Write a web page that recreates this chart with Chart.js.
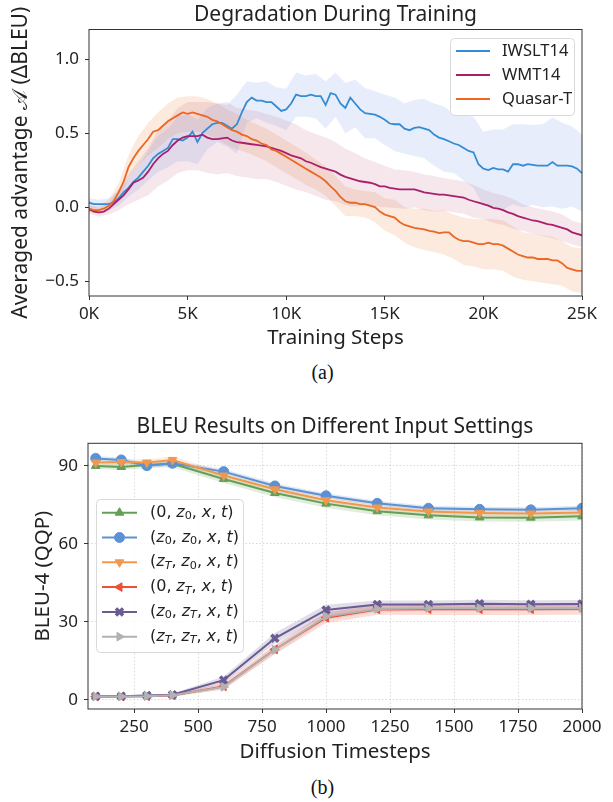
<!DOCTYPE html>
<html>
<head>
<meta charset="utf-8">
<script src="https://cdn.jsdelivr.net/npm/chart.js@4.4.1/dist/chart.umd.min.js"></script>
<style>
    body { margin: 0; background: #fff; width: 613px; height: 802px; position: relative; overflow: hidden; }
    .wrap { position: absolute; left: 0; width: 613px; }
    .cap { position: absolute; left: 16px; width: 613px; text-align: center; font-family: "Liberation Serif", serif; font-size: 20px; color: #111; }
</style>
</head>
<body>
<div class="wrap" style="top:0;height:352px"><canvas id="chartA" width="613" height="352"></canvas></div>
<div class="cap" style="top:361px">(a)</div>
<div class="wrap" style="top:400px;height:364px"><canvas id="chartB" width="613" height="364"></canvas></div>
<div class="cap" style="top:776px">(b)</div>
<script>
// ---- (a) Degradation During Training, one value every 250 steps ----
var stepA = 250;
var iwslt = [0.03, 0.02, 0.02, 0.02, 0.02, 0.03, 0.06, 0.10, 0.13, 0.17,
    0.20, 0.24, 0.28, 0.33, 0.36, 0.38, 0.40, 0.46, 0.46, 0.45,
    0.47, 0.51, 0.44, 0.50, 0.53, 0.56, 0.57, 0.57, 0.55, 0.53,
    0.56, 0.64, 0.71, 0.74, 0.72, 0.72, 0.71, 0.71, 0.68, 0.65,
    0.66, 0.70, 0.76, 0.75, 0.75, 0.76, 0.75, 0.75, 0.69, 0.77,
    0.76, 0.70, 0.67, 0.74, 0.70, 0.66, 0.635, 0.63, 0.625, 0.61,
    0.59, 0.565, 0.56, 0.56, 0.53, 0.52, 0.535, 0.54, 0.53, 0.52,
    0.49, 0.47, 0.46, 0.445, 0.43, 0.42, 0.40, 0.38, 0.37, 0.29,
    0.26, 0.25, 0.265, 0.255, 0.255, 0.24, 0.29, 0.29, 0.28, 0.29,
    0.285, 0.28, 0.28, 0.28, 0.305, 0.28, 0.28, 0.28, 0.275, 0.26,
    0.23];
var wmt = [-0.015, -0.03, -0.035, -0.03, -0.01, 0.02, 0.05, 0.08, 0.12, 0.165,
    0.18, 0.20, 0.24, 0.29, 0.33, 0.36, 0.38, 0.42, 0.45, 0.47,
    0.48, 0.48, 0.48, 0.49, 0.47, 0.46, 0.46, 0.465, 0.47, 0.45,
    0.44, 0.435, 0.43, 0.425, 0.42, 0.415, 0.41, 0.40, 0.39, 0.38,
    0.365, 0.35, 0.34, 0.33, 0.31, 0.30, 0.285, 0.27, 0.26, 0.25,
    0.24, 0.22, 0.205, 0.195, 0.185, 0.175, 0.17, 0.165, 0.155, 0.14,
    0.14, 0.13, 0.125, 0.12, 0.12, 0.12, 0.12, 0.11, 0.10, 0.095,
    0.09, 0.085, 0.085, 0.08, 0.075, 0.07, 0.065, 0.05, 0.04, 0.03,
    0.02, 0.01, -0.005, -0.01, -0.02, -0.035, -0.045, -0.06, -0.07, -0.08,
    -0.09, -0.095, -0.105, -0.115, -0.12, -0.13, -0.14, -0.15, -0.17, -0.18,
    -0.19];
var quasar = [-0.01, -0.02, -0.02, -0.01, 0.01, 0.04, 0.10, 0.17, 0.27, 0.33,
    0.38, 0.42, 0.46, 0.51, 0.52, 0.55, 0.58, 0.60, 0.62, 0.64,
    0.63, 0.64, 0.63, 0.62, 0.61, 0.59, 0.58, 0.56, 0.54, 0.52,
    0.51, 0.49, 0.48, 0.46, 0.45, 0.43, 0.42, 0.39, 0.38, 0.36,
    0.34, 0.32, 0.30, 0.28, 0.26, 0.24, 0.22, 0.20, 0.175, 0.14,
    0.11, 0.07, 0.04, 0.03, 0.03, 0.02, 0.02, 0.01, 0.0, -0.03,
    -0.05, -0.06, -0.07, -0.10, -0.12, -0.13, -0.14, -0.145, -0.15, -0.16,
    -0.165, -0.175, -0.17, -0.17, -0.20, -0.22, -0.23, -0.23, -0.24, -0.25,
    -0.25, -0.24, -0.25, -0.25, -0.26, -0.28, -0.30, -0.32, -0.33, -0.34,
    -0.34, -0.35, -0.35, -0.35, -0.36, -0.36, -0.38, -0.41, -0.42, -0.43,
    -0.43];
// band half widths, one value every 500 steps
var stepBand = 500;
var iwsltSpread = [0.03, 0.03, 0.04, 0.05, 0.06, 0.08, 0.10, 0.12, 0.13, 0.15,
    0.16, 0.15, 0.14, 0.13, 0.14, 0.20, 0.14, 0.12, 0.14, 0.13,
    0.14, 0.15, 0.14, 0.15, 0.16, 0.15, 0.17, 0.16, 0.17, 0.16,
    0.17, 0.18, 0.17, 0.19, 0.20, 0.21, 0.22, 0.20, 0.22, 0.24,
    0.25, 0.26, 0.27, 0.27, 0.28, 0.27, 0.28, 0.30, 0.29, 0.27,
    0.26];
var wmtSpread = [0.03, 0.03, 0.04, 0.07, 0.10, 0.13, 0.16, 0.19, 0.20, 0.22,
    0.23, 0.23, 0.24, 0.24, 0.24, 0.23, 0.23, 0.23, 0.22, 0.22,
    0.22, 0.22, 0.21, 0.21, 0.21, 0.20, 0.19, 0.18, 0.16, 0.15,
    0.14, 0.13, 0.13, 0.12, 0.12, 0.12, 0.11, 0.11, 0.11, 0.11,
    0.10, 0.10, 0.10, 0.10, 0.09, 0.09, 0.09, 0.09, 0.09, 0.08,
    0.08];
var quasarSpread = [0.02, 0.03, 0.04, 0.06, 0.08, 0.10, 0.11, 0.12, 0.12, 0.12,
    0.12, 0.12, 0.12, 0.12, 0.12, 0.12, 0.11, 0.11, 0.11, 0.11,
    0.11, 0.11, 0.11, 0.10, 0.10, 0.10, 0.10, 0.09, 0.09, 0.10,
    0.11, 0.12, 0.12, 0.13, 0.14, 0.14, 0.15, 0.15, 0.16, 0.16,
    0.17, 0.17, 0.17, 0.17, 0.16, 0.16, 0.16, 0.16, 0.15, 0.15,
    0.15];
var xTicksA = [0, 5000, 10000, 15000, 20000, 25000];
var yTicksA = [-0.5, 0, 0.5, 1.0];

// ---- (b) BLEU Results on Different Input Settings ----
var timesteps = [100, 200, 300, 400, 600, 800, 1000, 1200, 1400, 1600, 1800, 2000];
var bleuZeroZ0 = [90.0, 89.6, 90.4, 90.8, 85.0, 79.6, 75.5, 72.6, 71.0, 70.2, 70.1, 70.6];
var bleuZ0Z0 = [92.9, 92.3, 90.1, 91.0, 87.8, 82.3, 78.5, 75.6, 73.7, 73.3, 73.1, 73.7];
var bleuZTZ0 = [91.3, 91.5, 91.3, 92.3, 86.3, 81.0, 76.8, 74.0, 72.5, 71.9, 71.7, 72.1];
var bleuZeroZT = [1.3, 1.3, 1.4, 1.7, 5.2, 19.4, 31.6, 34.8, 34.9, 34.9, 34.9, 35.0];
var bleuZ0ZT = [1.4, 1.4, 1.7, 2.0, 7.6, 23.7, 34.6, 36.7, 36.7, 37.0, 36.8, 36.9];
var bleuZTZT = [1.3, 1.3, 1.4, 1.8, 5.0, 19.3, 32.1, 35.0, 35.3, 35.3, 35.3, 35.3];
var sdZeroZ0 = [1.2, 1.2, 1.2, 1.3, 1.6, 1.6, 1.6, 1.6, 1.6, 1.6, 1.6, 1.6];
var sdZ0Z0 = [0.9, 0.9, 0.9, 0.9, 1.0, 1.0, 1.0, 1.0, 1.0, 1.0, 1.0, 1.0];
var sdZTZ0 = [1.2, 1.2, 1.2, 1.3, 1.5, 1.5, 1.5, 1.5, 1.5, 1.5, 1.5, 1.5];
var sdZeroZT = [0.4, 0.4, 0.4, 0.5, 1.2, 1.8, 2.0, 2.0, 2.2, 2.2, 2.2, 2.2];
var sdZ0ZT = [0.4, 0.4, 0.4, 0.5, 1.4, 2.0, 2.0, 1.5, 1.5, 1.5, 1.5, 1.5];
var sdZTZT = [0.4, 0.4, 0.4, 0.5, 1.0, 1.5, 1.5, 1.2, 1.2, 1.2, 1.2, 1.2];
var xTicksB = [250, 500, 750, 1000, 1250, 1500, 1750, 2000];
var yTicksB = [0, 30, 60, 90];

Chart.defaults.font.family = "'Noto Sans', sans-serif";
Chart.defaults.color = '#222';

var seriesA = [
    { name: 'IWSLT14', mean: iwslt, spread: iwsltSpread, color: 'rgb(52,140,212)', band: 'rgba(110,150,225,0.17)' },
    { name: 'WMT14', mean: wmt, spread: wmtSpread, color: 'rgb(168,32,108)', band: 'rgba(170,60,100,0.12)' },
    { name: 'Quasar-T', mean: quasar, spread: quasarSpread, color: 'rgb(236,102,36)', band: 'rgba(240,130,60,0.17)' }
];

var seriesB = [
    { label: '(0,z_0,x,t)', mean: bleuZeroZ0, sd: sdZeroZ0, color: 'rgb(98,160,86)', style: 'triangle', rot: 0 },
    { label: '(z_0,z_0,x,t)', mean: bleuZ0Z0, sd: sdZ0Z0, color: 'rgb(92,146,212)', style: 'circle', rot: 0 },
    { label: '(z_T,z_0,x,t)', mean: bleuZTZ0, sd: sdZTZ0, color: 'rgb(242,152,78)', style: 'triangle', rot: 180 },
    { label: '(0,z_T,x,t)', mean: bleuZeroZT, sd: sdZeroZT, color: 'rgb(236,80,54)', style: 'triangle', rot: -90 },
    { label: '(z_0,z_T,x,t)', mean: bleuZ0ZT, sd: sdZ0ZT, color: 'rgb(106,92,146)', style: 'crossRot', rot: 0 },
    { label: '(z_T,z_T,x,t)', mean: bleuZTZT, sd: sdZTZT, color: 'rgb(178,178,178)', style: 'triangle', rot: 90 }
];

function withAlpha(rgb, a) {
    return rgb.replace('rgb(', 'rgba(').replace(')', ',' + a + ')');
}

// box round the plot, like matplotlib spines
var frame = {
    id: 'frame',
    afterDatasetsDraw: function (chart) {
        var a = chart.chartArea, ctx = chart.ctx;
        ctx.save();
        ctx.strokeStyle = '#333';
        ctx.lineWidth = 1;
        ctx.strokeRect(a.left, a.top, a.right - a.left, a.bottom - a.top);
        ctx.restore();
    }
};

function boxPath(ctx, x, y, w, h, r) {
    ctx.beginPath();
    ctx.moveTo(x + r, y);
    ctx.arcTo(x + w, y, x + w, y + h, r);
    ctx.arcTo(x + w, y + h, x, y + h, r);
    ctx.arcTo(x, y + h, x, y, r);
    ctx.arcTo(x, y, x + w, y, r);
    ctx.closePath();
}

var legendA = {
    id: 'legendA',
    afterDraw: function (chart) {
        var ctx = chart.ctx;
        ctx.save();
        boxPath(ctx, 450.5, 38.5, 124, 77, 4);
        ctx.fillStyle = 'rgba(255,255,255,0.8)';
        ctx.fill();
        ctx.strokeStyle = '#d9d9d9';
        ctx.lineWidth = 1;
        ctx.stroke();
        seriesA.forEach(function (s, i) {
            var y = 51 + i * 24;
            ctx.strokeStyle = s.color;
            ctx.lineWidth = 2;
            ctx.beginPath();
            ctx.moveTo(456, y);
            ctx.lineTo(490, y);
            ctx.stroke();
            ctx.fillStyle = '#222';
            ctx.font = "16.5px 'Noto Sans'";
            ctx.textBaseline = 'middle';
            ctx.fillText(s.name, 502, y);
        });
        ctx.restore();
    }
};

// draws "(z_T,z_0,x,t)" like mathtext: italic letters, lowered subscripts, thin gap after commas
function drawMath(ctx, text, x, y, size) {
    var i = 0;
    while (i < text.length) {
        var ch = text[i], sub = false;
        if (ch === '_') { sub = true; ch = text[i + 1]; i++; }
        var italic = /[a-zA-Z]/.test(ch);
        var fs = sub ? size * 0.7 : size;
        ctx.font = (italic ? 'italic ' : '') + fs + "px 'DejaVu Sans'";
        ctx.fillText(ch, x, sub ? y + size * 0.22 : y);
        x += ctx.measureText(ch).width + (ch === ',' ? size * 0.3 : 0);
        i++;
    }
}

var legendB = {
    id: 'legendB',
    afterDraw: function (chart) {
        var ctx = chart.ctx;
        ctx.save();
        boxPath(ctx, 96.5, 99.5, 147, 153, 4);
        ctx.fillStyle = 'rgba(255,255,255,0.8)';
        ctx.fill();
        ctx.strokeStyle = '#d9d9d9';
        ctx.lineWidth = 1;
        ctx.stroke();
        seriesB.forEach(function (s, i) {
            var y = 112.7 + i * 24.8;
            ctx.strokeStyle = s.color;
            ctx.lineWidth = 2;
            ctx.beginPath();
            ctx.moveTo(102, y);
            ctx.lineTo(137, y);
            ctx.stroke();
            ctx.fillStyle = s.color;
            ctx.strokeStyle = s.color;
            ctx.lineWidth = s.style === 'crossRot' ? 3.5 : 1;
            Chart.helpers.drawPoint(ctx, { pointStyle: s.style, radius: 5, rotation: s.rot, borderWidth: ctx.lineWidth }, 119.5, y);
            ctx.fillStyle = '#222';
            ctx.textBaseline = 'middle';
            drawMath(ctx, s.label, 150, y, 16);
        });
        ctx.restore();
    }
};

// ---- chart (a) ----
var dataA = [];
seriesA.forEach(function (s, k) {
    dataA.push({
        data: s.spread.map(function (h, i) { return { x: i * stepBand, y: s.mean[i * stepBand / stepA] + h }; }),
        borderWidth: 0, pointRadius: 0, backgroundColor: s.band, fill: '+1', order: 5
    });
    dataA.push({
        data: s.spread.map(function (h, i) { return { x: i * stepBand, y: s.mean[i * stepBand / stepA] - h }; }),
        borderWidth: 0, pointRadius: 0, backgroundColor: s.band, fill: false, order: 5
    });
});
seriesA.forEach(function (s, k) {
    dataA.push({
        label: s.name,
        data: s.mean.map(function (v, i) { return { x: i * stepA, y: v }; }),
        borderColor: s.color, borderWidth: 1.8, pointRadius: 0, fill: false,
        order: 2 - k
    });
});

new Chart(document.getElementById('chartA').getContext('2d'), {
    type: 'line',
    data: { datasets: dataA },
    options: {
        responsive: false,
        animation: false,
        layout: { padding: { left: 0, right: 31, top: 0, bottom: 0 } },
        plugins: {
            legend: { display: false },
            tooltip: { enabled: false },
            title: {
                display: true, text: 'Degradation During Training', fullSize: false,
                font: { size: 21, weight: 'normal' }, padding: { top: 2.5, bottom: 1.8 }, color: '#222'
            }
        },
        scales: {
            x: {
                type: 'linear', min: 0, max: 25000,
                afterBuildTicks: function (scale) { scale.ticks = xTicksA.map(function (v) { return { value: v }; }); },
                afterFit: function (scale) { scale.height = 56; },
                ticks: { autoSkip: false, maxRotation: 0, padding: 3.5, font: { size: 17 }, color: '#222',
                    callback: function (v) { return (v / 1000) + 'K'; } },
                grid: { drawOnChartArea: false, drawTicks: true, tickLength: 4, color: '#333' },
                border: { display: false },
                title: { display: true, text: 'Training Steps', font: { size: 20.5 }, padding: { top: 0, bottom: 1.5 }, color: '#222' }
            },
            y: {
                min: -0.6, max: 1.2,
                afterBuildTicks: function (scale) { scale.ticks = yTicksA.map(function (v) { return { value: v }; }); },
                afterFit: function (scale) { scale.width = 89; },
                ticks: { padding: 6, font: { size: 17 }, color: '#222',
                    callback: function (v) { return v.toFixed(1).replace('-', '\u2212'); } },
                grid: { drawOnChartArea: false, drawTicks: true, tickLength: 4, color: '#333' },
                border: { display: false },
                title: { display: true, text: 'Averaged advantage \uD835\uDC9C (\u0394BLEU)', font: { size: 21 }, padding: { top: 8.5, bottom: 0 }, color: '#222' }
            }
        }
    },
    plugins: [frame, legendA]
});

// ---- chart (b) ----
var dataB = [];
seriesB.forEach(function (s) {
    dataB.push({
        data: s.mean.map(function (v, i) { return { x: timesteps[i], y: v + s.sd[i] }; }),
        borderWidth: 0, pointRadius: 0, backgroundColor: withAlpha(s.color, 0.2), fill: '+1', order: 10
    });
    dataB.push({
        data: s.mean.map(function (v, i) { return { x: timesteps[i], y: v - s.sd[i] }; }),
        borderWidth: 0, pointRadius: 0, backgroundColor: withAlpha(s.color, 0.2), fill: false, order: 10
    });
});
seriesB.forEach(function (s, k) {
    dataB.push({
        label: s.label,
        data: s.mean.map(function (v, i) { return { x: timesteps[i], y: v }; }),
        borderColor: s.color, borderWidth: 2, fill: false,
        pointStyle: s.style, pointRotation: s.rot, pointRadius: 5,
        pointBackgroundColor: s.color, pointBorderColor: s.color,
        pointBorderWidth: s.style === 'crossRot' ? 3.5 : 1,
        order: 6 - k
    });
});

new Chart(document.getElementById('chartB').getContext('2d'), {
    type: 'line',
    data: { datasets: dataB },
    options: {
        responsive: false,
        animation: false,
        layout: { padding: { left: 0, right: 31, top: 0, bottom: 0 } },
        plugins: {
            legend: { display: false },
            tooltip: { enabled: false },
            title: {
                display: true, text: 'BLEU Results on Different Input Settings', fullSize: false,
                font: { size: 21, weight: 'normal' }, padding: { top: 14.2, bottom: 3.9 }, color: '#222'
            }
        },
        scales: {
            x: {
                type: 'linear', min: 70, max: 2000,
                afterBuildTicks: function (scale) { scale.ticks = xTicksB.map(function (v) { return { value: v }; }); },
                afterFit: function (scale) { scale.height = 55; },
                ticks: { autoSkip: false, maxRotation: 0, padding: 3.5, font: { size: 17 }, color: '#222',
                    callback: function (v) { return String(v); } },
                grid: { drawOnChartArea: true, drawTicks: true, tickLength: 4, color: '#cfcfcf', lineWidth: 0.8,
                    tickColor: '#333', tickBorderDash: [], tickWidth: 1 },
                border: { display: false, dash: [1.5, 2] },
                title: { display: true, text: 'Diffusion Timesteps', font: { size: 20.5 }, padding: { top: 0, bottom: 0 }, color: '#222' }
            },
            y: {
                min: -3.5, max: 98.7,
                afterBuildTicks: function (scale) { scale.ticks = yTicksB.map(function (v) { return { value: v }; }); },
                afterFit: function (scale) { scale.width = 88; },
                ticks: { padding: 6, font: { size: 17 }, color: '#222' },
                grid: { drawOnChartArea: true, drawTicks: true, tickLength: 4, color: '#cfcfcf', lineWidth: 0.8,
                    tickColor: '#333', tickBorderDash: [], tickWidth: 1 },
                border: { display: false, dash: [1.5, 2] },
                title: { display: true, text: 'BLEU-4 (QQP)', font: { size: 20.5 }, padding: { top: 31, bottom: 0 }, color: '#222' }
            }
        }
    },
    plugins: [frame, legendB]
});
</script>
</body>
</html>
